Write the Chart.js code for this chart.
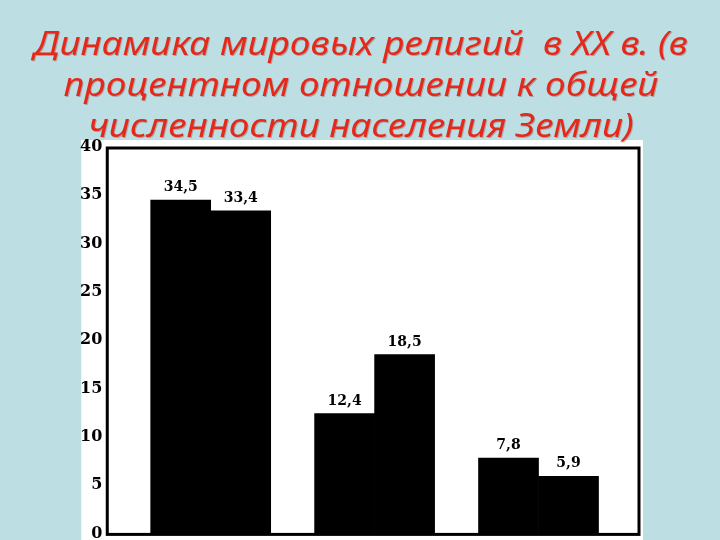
<!DOCTYPE html>
<html><head><meta charset="utf-8">
<script src="https://cdn.jsdelivr.net/npm/chart.js@4/dist/chart.umd.min.js"></script>
<style>html,body{margin:0;padding:0;background:#bddfe3;overflow:hidden}#wrap{width:720px;height:540px;position:relative}</style>
</head><body><div id="wrap"><canvas id="c" width="720" height="540"></canvas></div>
<script>
const titleLines = ['Динамика мировых религий  в XX в. (в', 'процентном отношении к общей', 'численности населения Земли)'];
const categories = ['Христианство', 'Ислам', 'Буддизм'];
const seriesNames = ['1900', '2000'];
const values1900 = [34.5, 12.4, 7.8];
const values2000 = [33.4, 18.5, 5.9];
const yTicks = [0, 5, 10, 15, 20, 25, 30, 35, 40];

const fmt = v => String(v).replace('.', ',');

const decor = {
  id: 'decor',
  beforeDraw(chart) {
    const {ctx, chartArea: a} = chart;
    ctx.save();
    ctx.fillStyle = '#ffffff';
    ctx.fillRect(a.left - 26, a.top - 7, (a.right + 4) - (a.left - 26), chart.height - (a.top - 7));
    ctx.fillStyle = '#e6281a';
    ctx.shadowColor = 'rgba(120,30,20,0.3)';
    ctx.shadowOffsetX = 1;
    ctx.shadowOffsetY = 1;
    ctx.shadowBlur = 0;
    ctx.font = "italic 32px 'Noto Sans', 'Liberation Sans', sans-serif";
    ctx.textAlign = 'center';
    ctx.textBaseline = 'alphabetic';
    titleLines.forEach((t, i) => {
      ctx.save();
      ctx.translate(361, 55 + i * 41);
      ctx.scale(1.157, 1);
      ctx.fillText(t, 0, 0);
      ctx.restore();
    });
    ctx.restore();
  },
  afterDatasetsDraw(chart) {
    const {ctx, chartArea: a} = chart;
    ctx.save();
    ctx.strokeStyle = '#000';
    ctx.lineWidth = 3;
    ctx.strokeRect(a.left, a.top + 1, a.right - a.left, a.bottom - a.top);
    ctx.fillStyle = '#000';
    ctx.font = "bold 14px 'DejaVu Serif', serif";
    ctx.textAlign = 'center';
    ctx.textBaseline = 'alphabetic';
    chart.data.datasets.forEach((ds, di) => {
      chart.getDatasetMeta(di).data.forEach((el, i) => {
        ctx.fillText(fmt(ds.data[i].y), el.x, el.y - 9);
      });
    });
    ctx.restore();
  }
};

const mk = arr => arr.map((v, i) => ({x: i + 1, y: v, c: categories[i]}));

new Chart(document.getElementById('c'), {
  type: 'bar',
  data: {
    datasets: [
      {label: seriesNames[0], data: mk(values1900), backgroundColor: '#000', barThickness: 60},
      {label: seriesNames[1], data: mk(values2000), backgroundColor: '#000', barThickness: 60}
    ]
  },
  options: {
    responsive: false,
    animation: false,
    devicePixelRatio: 1,
    layout: {padding: {top: 147, left: 75, right: 81, bottom: 2}},
    plugins: {legend: {display: false}, title: {display: false}, tooltip: {enabled: false}},
    scales: {
      x: {type: 'linear', display: false, offset: false, min: 0.369, max: 3.613, grid: {display: false}},
      y: {
        min: 0, max: 40,
        afterBuildTicks: s => { s.ticks = yTicks.map(v => ({value: v})); },
        grid: {display: false, drawTicks: false},
        border: {display: false},
        ticks: {color: '#000', padding: 5, font: {family: "'DejaVu Serif', serif", weight: 'bold', size: 16, lineHeight: 0.2}}
      }
    }
  },
  plugins: [decor]
});
</script></body></html>
